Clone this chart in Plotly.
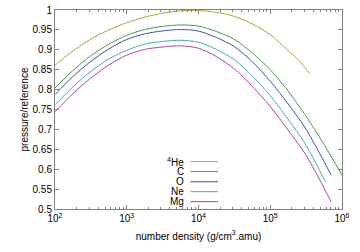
import plotly.graph_objects as go

# number density (g/cm3.amu) and pressure/reference
he_x = [100, 177.8, 316.2, 562.3, 1000, 1778, 3162, 5623, 10000, 17783, 31623, 56234, 100000, 177828, 251189, 354813]
he_y = [0.861, 0.897, 0.927, 0.950, 0.968, 0.982, 0.992, 0.998, 0.999, 0.994, 0.984, 0.965, 0.938, 0.898, 0.873, 0.84]

c_x = [100, 177.8, 316.2, 562.3, 1000, 1778, 3162, 5623, 10000, 17783, 31623, 56234, 100000, 177828, 316228, 562341, 1000000]
c_y = [0.804, 0.848, 0.885, 0.914, 0.9365, 0.951, 0.959, 0.9625, 0.9595, 0.946, 0.926, 0.892, 0.85, 0.796, 0.733, 0.662, 0.585]

o_x = [100, 177.8, 316.2, 562.3, 1000, 1778, 3162, 5623, 10000, 17783, 31623, 56234, 100000, 177828, 316228, 707946]
o_y = [0.7875, 0.833, 0.871, 0.902, 0.926, 0.940, 0.9475, 0.951, 0.947, 0.931, 0.908, 0.870, 0.821, 0.764, 0.70, 0.585]

ne_x = [100, 177.8, 316.2, 562.3, 1000, 1778, 3162, 5623, 10000, 17783, 31623, 56234, 100000, 177828, 316228, 588844]
ne_y = [0.762, 0.807, 0.846, 0.877, 0.899, 0.914, 0.921, 0.924, 0.919, 0.901, 0.875, 0.834, 0.785, 0.725, 0.66, 0.568]

mg_x = [100, 177.8, 316.2, 562.3, 1000, 1778, 3162, 5623, 10000, 17783, 31623, 56234, 100000, 177828, 316228, 707946]
mg_y = [0.744, 0.790, 0.829, 0.862, 0.8865, 0.901, 0.907, 0.910, 0.904, 0.883, 0.852, 0.808, 0.7575, 0.698, 0.635, 0.5175]

labels = ["<sup>4</sup>He", "C", "O", "Ne", "Mg"]
colors = ["#a8a840", "#40a040", "#4848b0", "#40b0b0", "#b040b0"]

x_ticks = [100, 1000, 10000, 100000, 1000000]
x_tick_text = ["10<sup>2</sup>", "10<sup>3</sup>", "10<sup>4</sup>", "10<sup>5</sup>", "10<sup>6</sup>"]
y_ticks = [0.5, 0.55, 0.6, 0.65, 0.7, 0.75, 0.8, 0.85, 0.9, 0.95, 1]
y_tick_text = ["0.5", "0.55", "0.6", "0.65", "0.7", "0.75", "0.8", "0.85", "0.9", "0.95", "1"]

series = [(he_x, he_y), (c_x, c_y), (o_x, o_y), (ne_x, ne_y), (mg_x, mg_y)]

fig = go.Figure()
for (xs, ys), name, col in zip(series, labels, colors):
    fig.add_trace(go.Scatter(x=xs, y=ys, mode="lines", name=name,
                             line=dict(color=col, width=1, shape="spline", smoothing=0.8),
                             showlegend=False))

# legend drawn gnuplot-style: text right-aligned, sample line to the right
leg_y = [0.238, 0.188, 0.137, 0.087, 0.037]
for name, col, yy in zip(labels, colors, leg_y):
    fig.add_annotation(x=0.458, y=yy, xref="paper", yref="paper", text=name,
                       showarrow=False, xanchor="right", yanchor="middle",
                       font=dict(size=10, color="#000"))
    fig.add_shape(type="line", xref="paper", yref="paper", x0=0.472, x1=0.568,
                  y0=yy, y1=yy, line=dict(color=col, width=1))

minor_vals = [m * 10 ** e for e in range(2, 6) for m in range(2, 10)]

axis_common = dict(showgrid=False, zeroline=False, showline=True, linecolor="#808080",
                   linewidth=1, ticks="inside", tickcolor="#808080", mirror="allticks",
                   automargin=False, tickfont=dict(size=10, color="#000"))

fig.update_layout(
    width=360, height=252,
    margin=dict(l=55, r=18, t=10, b=43),
    paper_bgcolor="white", plot_bgcolor="white",
    font=dict(family="Liberation Sans, Arial, sans-serif", size=10, color="#000"),
    xaxis=dict(type="log", range=[2, 6], tickvals=x_ticks, ticktext=x_tick_text, ticklen=4,
               minor=dict(ticks="inside", ticklen=2, tickcolor="#808080", tickvals=minor_vals),
               title=dict(text="number density (g/cm<sup>3</sup>.amu)", font=dict(size=10), standoff=9),
               **axis_common),
    yaxis=dict(range=[0.5, 1.0], tickvals=y_ticks, ticktext=y_tick_text, ticklen=4,
               title=dict(text="pressure/reference", font=dict(size=10), standoff=2),
               **axis_common),
)

fig.write_html("out.html", config={"displayModeBar": False},
               post_script="document.body.style.margin='0';document.body.style.overflow='hidden';")
